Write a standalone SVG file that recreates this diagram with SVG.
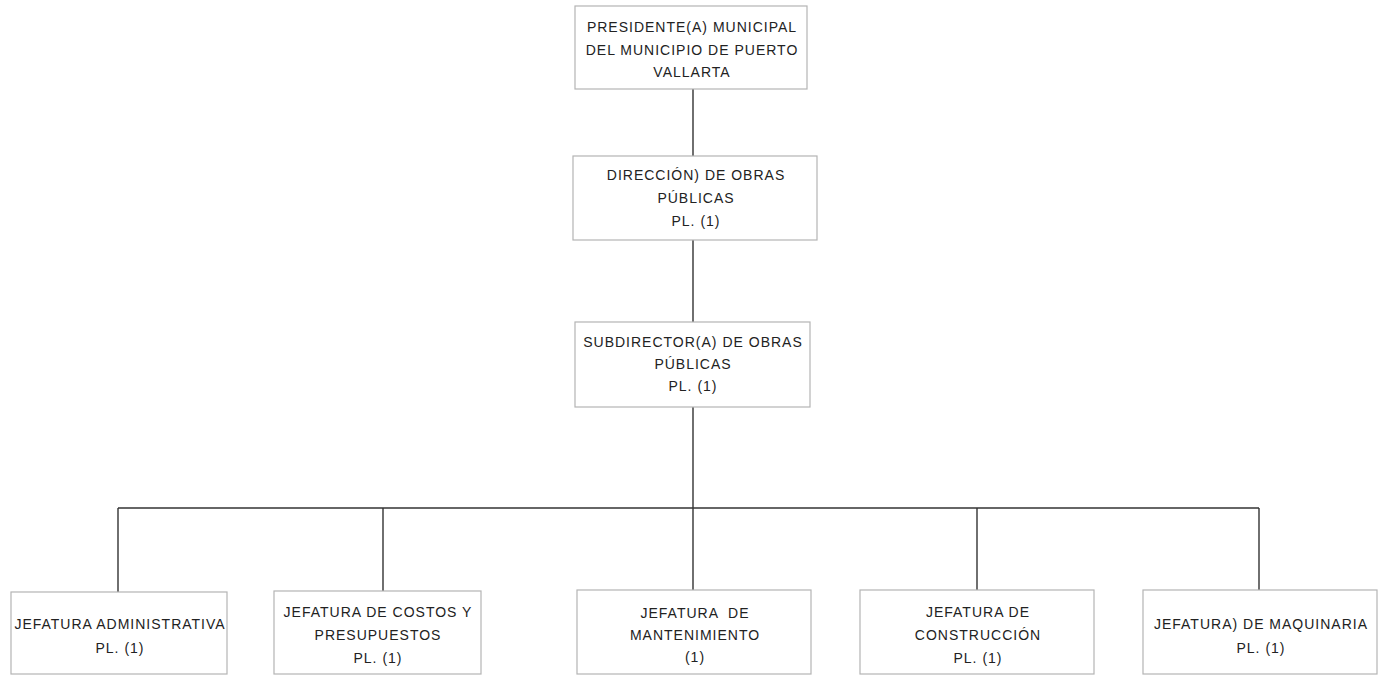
<svg xmlns="http://www.w3.org/2000/svg" width="1391" height="675" viewBox="0 0 1391 675">
<style>
.box{fill:#fff;stroke:#b4b4b4;stroke-width:1.2}
.t{font-family:"Liberation Sans",Arial,sans-serif;font-size:14px;letter-spacing:1px;fill:#222;text-anchor:middle}
.c{stroke:#333;stroke-width:1.4;fill:none}
</style>
<rect width="1391" height="675" fill="#fff"/>
<g id="connectors">
<line class="c" x1="693" y1="89" x2="693" y2="156"/>
<line class="c" x1="693" y1="240" x2="693" y2="322"/>
<line class="c" x1="693" y1="407" x2="693" y2="591"/>
<line class="c" x1="118" y1="508" x2="1259" y2="508"/>
<line class="c" x1="118" y1="508" x2="118" y2="592"/>
<line class="c" x1="383" y1="508" x2="383" y2="591"/>
<line class="c" x1="977" y1="508" x2="977" y2="590"/>
<line class="c" x1="1259" y1="508" x2="1259" y2="590"/>
</g>
<g id="presidente">
<rect class="box" x="575" y="6" width="232" height="83"/>
<text class="t" x="692" y="32">PRESIDENTE(A) MUNICIPAL</text>
<text class="t" x="692" y="55">DEL MUNICIPIO DE PUERTO</text>
<text class="t" x="692" y="77">VALLARTA</text>
</g>
<g id="direccion">
<rect class="box" x="573" y="156" width="244" height="84"/>
<text class="t" x="696" y="180">DIRECCIÓN) DE OBRAS</text>
<text class="t" x="696" y="203">PÚBLICAS</text>
<text class="t" x="696" y="226">PL. (1)</text>
</g>
<g id="subdirector">
<rect class="box" x="575" y="322" width="235" height="85"/>
<text class="t" x="693" y="347">SUBDIRECTOR(A) DE OBRAS</text>
<text class="t" x="693" y="369">PÚBLICAS</text>
<text class="t" x="693" y="391">PL. (1)</text>
</g>
<g id="administrativa">
<rect class="box" x="11" y="592" width="216" height="82"/>
<text class="t" x="120" y="629">JEFATURA ADMINISTRATIVA</text>
<text class="t" x="120" y="653">PL. (1)</text>
</g>
<g id="costos">
<rect class="box" x="274" y="591" width="207" height="83"/>
<text class="t" x="378" y="617">JEFATURA DE COSTOS Y</text>
<text class="t" x="378" y="640">PRESUPUESTOS</text>
<text class="t" x="378" y="663">PL. (1)</text>
</g>
<g id="mantenimiento">
<rect class="box" x="577" y="590" width="234" height="84"/>
<text class="t" x="695" y="618" xml:space="preserve">JEFATURA  DE</text>
<text class="t" x="695" y="640">MANTENIMIENTO</text>
<text class="t" x="695" y="662">(1)</text>
</g>
<g id="construccion">
<rect class="box" x="860" y="590" width="234" height="84"/>
<text class="t" x="978" y="617">JEFATURA DE</text>
<text class="t" x="978" y="640">CONSTRUCCIÓN</text>
<text class="t" x="978" y="663">PL. (1)</text>
</g>
<g id="maquinaria">
<rect class="box" x="1143" y="590" width="234" height="84"/>
<text class="t" x="1261" y="629">JEFATURA) DE MAQUINARIA</text>
<text class="t" x="1261" y="653">PL. (1)</text>
</g>
</svg>
